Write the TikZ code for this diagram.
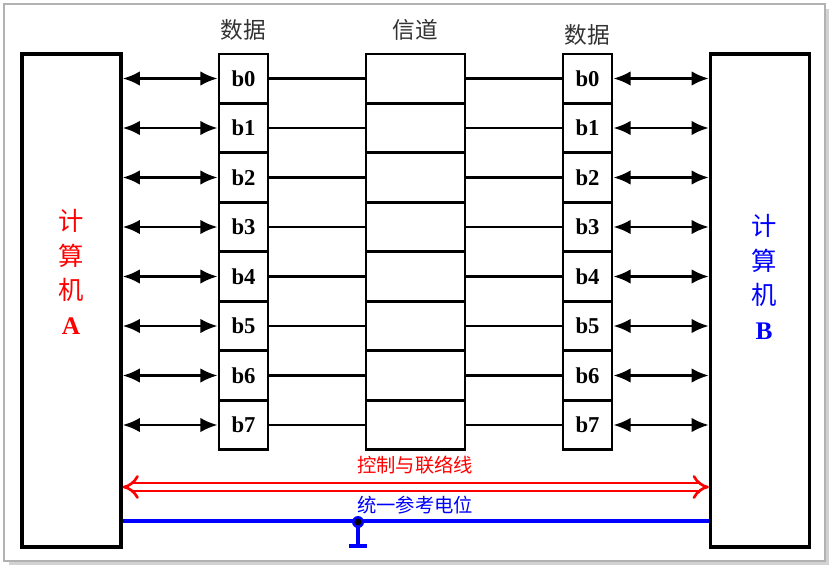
\documentclass[tikz,border=0pt]{standalone}
\usepackage{fontspec}
\setmainfont{Liberation Serif}
\newfontfamily\cjk{Noto Sans CJK SC}
\usetikzlibrary{arrows.meta}
\begin{document}
\begin{tikzpicture}[x=0.75pt,y=-0.75pt,
  pc/.style={draw,line width=2.4pt,minimum width=74.25pt,minimum height=369.75pt,inner sep=0},
  bit/.style={draw,line width=2pt,minimum width=36.75pt,minimum height=37pt,inner sep=0,font=\bfseries\fontsize{17}{17}\selectfont},
  chan/.style={draw,line width=2pt,minimum width=74.25pt,minimum height=37pt,inner sep=0},
  dbl/.style={line width=2.2pt,{Latex[length=13pt,width=11pt]}-{Latex[length=13pt,width=11pt]}},
  wire/.style={line width=2pt},
  lab/.style={font=\cjk\fontsize{17}{17}\selectfont}]
\useasboundingbox (0,0) rectangle (830,571);
\fill[gray!35] (9,9) rectangle (829,565);
\draw[gray!60,fill=white,line width=1pt] (4,4) rectangle (825,561);
\node[pc] (A) at (71.5,300.5) {};
\node[pc] (B) at (760,300.5) {};
\node[lab,text=red,align=center,font=\cjk\fontsize{19}{19}\selectfont] at (71,272) {计\\[7pt]算\\[7pt]机\\[7pt]{\rmfamily\bfseries A}};
\node[lab,text=blue,align=center,font=\cjk\fontsize{19}{19}\selectfont] at (764,277) {计\\[7pt]算\\[7pt]机\\[7pt]{\rmfamily\bfseries B}};
\node[lab,text=black!80] at (243,30) {数据};
\node[lab,text=black!80] at (415,30) {信道};
\node[lab,text=black!80] at (587,35) {数据};
\foreach \i in {0,...,7}{
  \pgfmathsetmacro{\yy}{78.5+49.5*\i}
  \node[bit] (L\i) at (243.5,\yy) {b\i};
  \node[chan] (C\i) at (415.5,\yy) {};
  \node[bit] (R\i) at (587.5,\yy) {b\i};
  \draw[dbl] (A.east|-L\i) -- (L\i.west);
  \draw[dbl] (R\i.east) -- (B.west|-R\i);
  \draw[wire] (L\i.east) -- (C\i.west);
  \draw[wire] (C\i.east) -- (R\i.west);
}
\coordinate (ra) at (A.east|-0,487);
\coordinate (rb) at (B.west|-0,487);
\draw[red,line width=2pt,double=white,double distance=4pt,{Implies}-{Implies}] (ra) -- (rb);
\node[lab,text=red,font=\cjk\fontsize{14.5}{14.5}\selectfont] at (415,465) {控制与联络线};
\coordinate (ba) at (A.east|-0,521);
\coordinate (bb) at (B.west|-0,521);
\draw[blue,line width=2.4pt] (ba) -- (bb);
\node[lab,text=blue,font=\cjk\fontsize{14.5}{14.5}\selectfont] at (415,505) {统一参考电位};
\coordinate (g) at (358,522);
\coordinate (gb) at (358,546);
\draw[blue,line width=2.4pt] (g) -- (gb) (gb) ++(-9,0) -- ++(18,0);
\fill[blue] (g) circle (6); \fill[black] (g) circle (3.5);
\end{tikzpicture}
\end{document}
